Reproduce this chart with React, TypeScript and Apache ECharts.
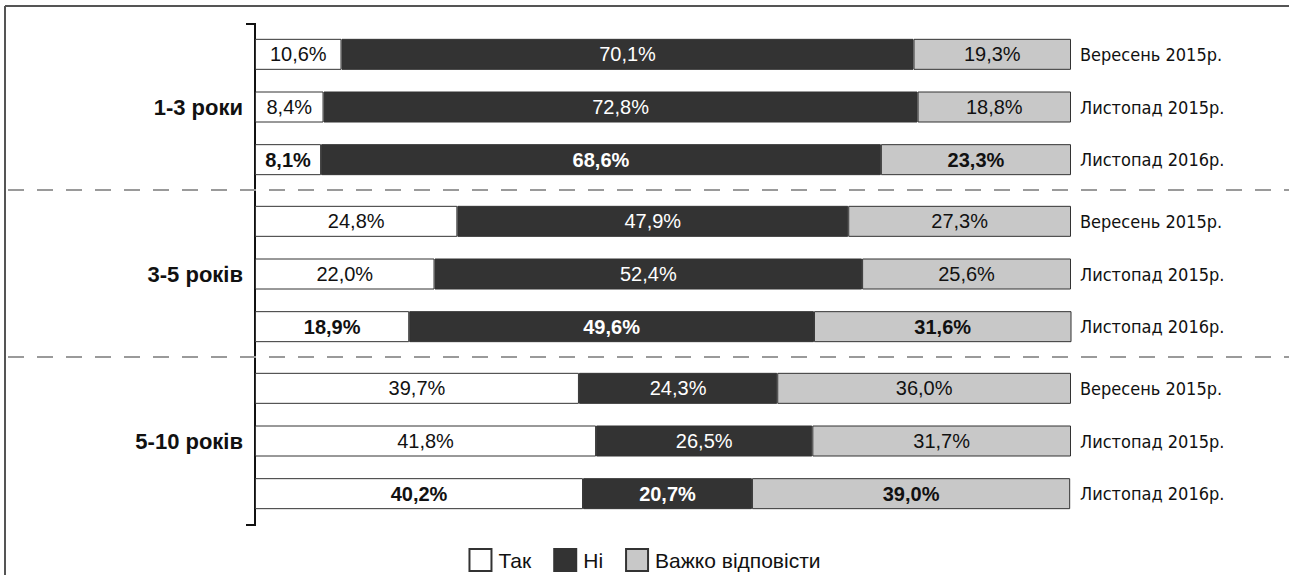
import React, { useEffect, useRef } from "react";
import * as echarts from "echarts";

const groups = ["1-3 роки", "3-5 років", "5-10 років"];
const periods = ["Вересень 2015р.", "Листопад 2015р.", "Листопад 2016р."];
const seriesNames = ["Так", "Ні", "Важко відповісти"];
// [group][period]
const yesValues = [
  [10.6, 8.4, 8.1],
  [24.8, 22.0, 18.9],
  [39.7, 41.8, 40.2],
];
const noValues = [
  [70.1, 72.8, 68.6],
  [47.9, 52.4, 49.6],
  [24.3, 26.5, 20.7],
];
const hardValues = [
  [19.3, 18.8, 23.3],
  [27.3, 25.6, 31.6],
  [36.0, 31.7, 39.0],
];

const FONT = "'Liberation Sans', Arial, Helvetica, sans-serif";
const NARROW = "'Liberation Sans Narrow', 'Arial Narrow', 'DejaVu Sans Condensed', sans-serif";
const colors = ["#ffffff", "#333333", "#c8c8c8"];
const labelColors = ["#111111", "#ffffff", "#111111"];

export default function App() {
  const ref = useRef<HTMLDivElement>(null);
  useEffect(() => {
    if (!ref.current) return;
    const chart = echarts.init(ref.current, undefined, { renderer: "svg" });
    const gridTops = [28, 195, 362];
    const gridH = 158;
    const grids = gridTops.map((t) => ({ left: 255, right: 218, top: t, height: gridH }));
    const xAxes = gridTops.map((_, i) => ({ type: "value", gridIndex: i, min: 0, max: 100, show: false }));
    const yAxes: any[] = [];
    gridTops.forEach((_, i) => {
      yAxes.push({
        type: "category",
        gridIndex: i,
        data: periods,
        inverse: true,
        position: "left",
        axisLine: { show: false },
        axisTick: { show: false },
        axisLabel: {
          margin: 12,
          fontFamily: FONT,
          fontSize: 22,
          fontWeight: "bold",
          color: "#111",
          formatter: (_v: string, idx: number) => (idx === 1 ? groups[i] : ""),
        },
      });
      yAxes.push({
        type: "category",
        gridIndex: i,
        data: periods,
        inverse: true,
        position: "right",
        axisLine: { show: false },
        axisTick: { show: false },
        axisLabel: { margin: 9, fontFamily: NARROW, fontSize: 18, color: "#111" },
      });
    });
    const valueSets = [yesValues, noValues, hardValues];
    const fmt = (v: number) => v.toFixed(1).replace(".", ",") + "%";
    const series: any[] = [];
    gridTops.forEach((_, g) => {
      valueSets.forEach((vals, s) => {
        series.push({
          type: "bar",
          name: seriesNames[s],
          xAxisIndex: g,
          yAxisIndex: g * 2,
          stack: "g" + g,
          barWidth: 31,
          itemStyle: { color: colors[s], borderColor: "#333", borderWidth: 1 },
          label: {
            show: true,
            position: "inside",
            fontFamily: FONT,
            fontSize: 20,
            color: labelColors[s],
            formatter: (p: any) => fmt(p.value),
          },
          data: vals[g].map((v, k) => (k === 2 ? { value: v, label: { fontWeight: "bold" } } : v)),
        });
      });
    });
    chart.setOption({
      animation: false,
      grid: grids,
      xAxis: xAxes,
      yAxis: yAxes,
      series,
      legend: {
        data: seriesNames,
        icon: "rect",
        left: "center",
        top: 543,
        itemWidth: 22,
        itemHeight: 22,
        itemGap: 22,
        textStyle: { fontFamily: FONT, fontSize: 21, color: "#111", padding: [0, 0, 0, 2] },
      },
      graphic: [
        { type: "line", shape: { x1: 5, y1: 6, x2: 1289, y2: 6 }, style: { stroke: "#555", lineWidth: 2 } },
        { type: "line", shape: { x1: 5, y1: 6, x2: 5, y2: 575 }, style: { stroke: "#555", lineWidth: 2 } },
        {
          type: "polyline",
          shape: { points: [[246, 24], [255, 24], [255, 525], [246, 525]] },
          style: { stroke: "#111", lineWidth: 2, fill: "none" },
        },
        { type: "line", shape: { x1: 8, y1: 190, x2: 1289, y2: 190 }, style: { stroke: "#9a9a9a", lineWidth: 2, lineDash: [16, 13] } },
        { type: "line", shape: { x1: 8, y1: 357, x2: 1289, y2: 357 }, style: { stroke: "#9a9a9a", lineWidth: 2, lineDash: [16, 13] } },
      ],
    });
    return () => chart.dispose();
  }, []);
  return <div ref={ref} style={{ position: "fixed", left: 0, top: 0, width: 1289, height: 575, background: "#fff" }} />;
}
